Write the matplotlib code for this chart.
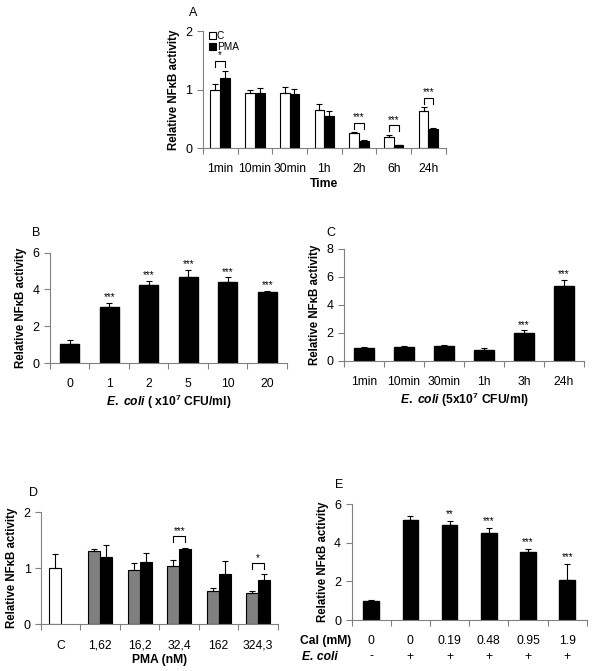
import matplotlib
matplotlib.use("Agg")
import matplotlib.pyplot as plt
import numpy as np

plt.rcParams["font.family"] = ["Liberation Sans", "DejaVu Sans"]
plt.rcParams["font.size"] = 8
plt.rcParams["mathtext.fontset"] = "custom"
plt.rcParams["mathtext.rm"] = "Liberation Sans:bold"
plt.rcParams["mathtext.it"] = "Liberation Sans:italic:bold"
plt.rcParams["mathtext.bf"] = "Liberation Sans:bold"

# Panel A: time course, control vs PMA
a_labels = ["1min", "10min", "30min", "1h", "2h", "6h", "24h"]
a_ctrl = [1.0, 0.94, 0.94, 0.65, 0.25, 0.19, 0.64]
a_ctrl_err = [0.09, 0.05, 0.11, 0.11, 0.02, 0.035, 0.055]
a_pma = [1.20, 0.94, 0.93, 0.55, 0.12, 0.05, 0.33]
a_pma_err = [0.12, 0.09, 0.08, 0.085, 0.02, 0.005, 0.01]
a_sig = {0: "*", 4: "***", 5: "***", 6: "***"}

# Panel B: E. coli dose
b_labels = ["0", "1", "2", "5", "10", "20"]
b_vals = [1.05, 3.04, 4.25, 4.70, 4.41, 3.85]
b_err = [0.2, 0.25, 0.23, 0.36, 0.25, 0.07]
b_sig = ["", "***", "***", "***", "***", "***"]

# Panel C: E. coli time course
c_labels = ["1min", "10min", "30min", "1h", "3h", "24h"]
c_vals = [0.93, 1.0, 1.05, 0.79, 1.99, 5.34]
c_err = [0.05, 0.07, 0.07, 0.1, 0.19, 0.43]
c_sig = ["", "", "", "", "***", "***"]

# Panel D: PMA dose, two series
d_labels = ["C", "1,62", "16,2", "32,4", "162", "324,3"]
d_ctrl = 1.0
d_ctrl_err = 0.26
d_gray = [1.31, 0.97, 1.04, 0.60, 0.56]
d_gray_err = [0.03, 0.12, 0.10, 0.04, 0.04]
d_black = [1.21, 1.11, 1.34, 0.89, 0.79]
d_black_err = [0.21, 0.16, 0.03, 0.24, 0.10]
d_sig = {3: "***", 5: "*"}

# Panel E: calcium dose with E. coli
e_cal = ["0", "0", "0.19", "0.48", "0.95", "1.9"]
e_ecoli = ["-", "+", "+", "+", "+", "+"]
e_vals = [0.99, 5.19, 4.91, 4.53, 3.53, 2.08]
e_err = [0.05, 0.21, 0.23, 0.23, 0.17, 0.83]
e_sig = ["", "", "**", "***", "***", "***"]

SPINE = "#808080"
YLABEL = "Relative NF\u03baB activity"


def style(ax, n, ymax, ystep):
    for s in ["top", "right"]:
        ax.spines[s].set_visible(False)
    for s in ["left", "bottom"]:
        ax.spines[s].set_color(SPINE)
        ax.spines[s].set_linewidth(0.8)
    ax.set_xlim(-0.5, n - 0.5)
    ax.set_ylim(0, ymax)
    ax.set_yticks(np.arange(0, ymax + 0.01, ystep))
    ax.set_xticks(np.arange(-0.5, n, 1.0), minor=False)
    ax.set_xticklabels([])
    ax.tick_params(axis="both", colors=SPINE, labelcolor="black", direction="out",
                   length=4, width=0.8, labelsize=9)
    ax.set_ylabel(YLABEL, fontweight="bold", fontsize=8.3, labelpad=4)


def cat_labels(ax, labels, pad=11):
    for i, lab in enumerate(labels):
        ax.annotate(lab, xy=(i, 0), xycoords=("data", "axes fraction"),
                    xytext=(0, -pad), textcoords="offset points",
                    ha="center", va="top", fontsize=8.7)


def bracket(ax, x1, x2, y, text, leg, gap):
    ax.plot([x1, x1, x2, x2], [y - leg, y, y, y - leg], color="black", lw=0.8)
    ax.text((x1 + x2) / 2, y + gap, text, ha="center", va="center", fontsize=7)


def panel_letter(fig, x, y, s):
    fig.text(x / 600, 1 - y / 671, s, ha="left", va="center", fontsize=9)


fig = plt.figure(figsize=(6, 6.71), dpi=100)
ekw = dict(ecolor="black", elinewidth=0.8, capsize=2.5, capthick=0.8)

# ---- A ----
axA = fig.add_axes([0.338, 0.7794, 0.405, 0.1744])
style(axA, len(a_labels), 2, 1)
x = np.arange(len(a_labels))
w = 0.28
z = np.zeros(len(x))
axA.bar(x - w / 2, a_ctrl, w, color="white", edgecolor="black", lw=0.8,
        yerr=[z, a_ctrl_err], error_kw=ekw, label="C")
axA.bar(x + w / 2, a_pma, w, color="black", edgecolor="black", lw=0.8,
        yerr=[z, a_pma_err], error_kw=ekw, label="PMA")
for i, s in a_sig.items():
    top = max(a_ctrl[i] + a_ctrl_err[i], a_pma[i] + a_pma_err[i])
    bracket(axA, i - w / 2, i + w / 2, top + 0.16, s, 0.1, 0.1)
cat_labels(axA, a_labels)
axA.set_xlabel("Time", fontweight="bold", fontsize=8.7, labelpad=14)
axA.legend(loc="upper left", bbox_to_anchor=(0.0, 1.05), frameon=False, fontsize=7.3,
           handlelength=0.7, handleheight=0.7, handletextpad=0.1, labelspacing=0.05,
           borderaxespad=0.2)
panel_letter(fig, 189, 13, "A")

# ---- B ----
axB = fig.add_axes([0.0833, 0.459, 0.395, 0.1644])
style(axB, len(b_labels), 6, 2)
x = np.arange(len(b_labels))
axB.bar(x, b_vals, 0.48, color="black", edgecolor="black",
        yerr=[np.zeros(len(x)), b_err], error_kw=ekw)
for i, s in enumerate(b_sig):
    if s:
        axB.text(i, b_vals[i] + b_err[i] + 0.3, s, ha="center", va="center", fontsize=7)
cat_labels(axB, b_labels)
axB.set_xlabel(r"$\it{E.\ coli}$" + " ( x10$^{7}$ CFU/ml)", fontweight="bold",
               fontsize=8.7, labelpad=14)
panel_letter(fig, 32, 233, "B")

# ---- C ----
axC = fig.add_axes([0.5733, 0.4624, 0.40, 0.1666])
style(axC, len(c_labels), 8, 2)
x = np.arange(len(c_labels))
axC.bar(x, c_vals, 0.5, color="black", edgecolor="black",
        yerr=[np.zeros(len(x)), c_err], error_kw=ekw)
for i, s in enumerate(c_sig):
    if s:
        axC.text(i, c_vals[i] + c_err[i] + 0.4, s, ha="center", va="center", fontsize=7)
cat_labels(axC, c_labels)
axC.set_xlabel(r"$\it{E.\ coli}$" + " (5x10$^{7}$ CFU/ml)", fontweight="bold",
               fontsize=8.7, labelpad=14)
panel_letter(fig, 326, 233, "C")

# ---- D ----
axD = fig.add_axes([0.0683, 0.0696, 0.395, 0.1669])
style(axD, len(d_labels), 2, 1)
w = 0.3
axD.bar(0 - w / 2, d_ctrl, w, color="white", edgecolor="black", lw=0.8,
        yerr=[[0], [d_ctrl_err]], error_kw=ekw)
x = np.arange(1, len(d_labels))
z = np.zeros(len(x))
axD.bar(x - w / 2, d_gray, w, color="#808080", edgecolor="black", lw=0.8,
        yerr=[z, d_gray_err], error_kw=ekw)
axD.bar(x + w / 2, d_black, w, color="black", edgecolor="black", lw=0.8,
        yerr=[z, d_black_err], error_kw=ekw)
for i, s in d_sig.items():
    top = max(d_gray[i - 1] + d_gray_err[i - 1], d_black[i - 1] + d_black_err[i - 1])
    bracket(axD, i - w / 2, i + w / 2, top + 0.2, s, 0.1, 0.1)
cat_labels(axD, d_labels)
axD.set_xlabel("PMA (nM)", fontweight="bold", fontsize=8.7, labelpad=14)
panel_letter(fig, 29, 493, "D")

# ---- E ----
axE = fig.add_axes([0.586, 0.076, 0.392, 0.1724])
style(axE, len(e_vals), 6, 2)
x = np.arange(len(e_vals))
axE.bar(x, e_vals, 0.4, color="black", edgecolor="black",
        yerr=[np.zeros(len(x)), e_err], error_kw=ekw)
for i, s in enumerate(e_sig):
    if s:
        axE.text(i, e_vals[i] + e_err[i] + 0.35, s, ha="center", va="center", fontsize=7)
cat_labels(axE, e_cal)
cat_labels(axE, e_ecoli, pad=22)
axE.annotate("Cal (mM)", xy=(0, 0), xycoords="axes fraction", xytext=(0, -11),
             textcoords="offset points", ha="right", va="top", fontsize=8.7,
             fontweight="bold")
axE.annotate("E. coli", xy=(0, 0), xycoords="axes fraction", xytext=(-36, -22),
             textcoords="offset points", ha="left", va="top", fontsize=8.7,
             fontweight="bold", fontstyle="italic")
panel_letter(fig, 335, 485, "E")

fig.savefig("out.png", dpi=100)
